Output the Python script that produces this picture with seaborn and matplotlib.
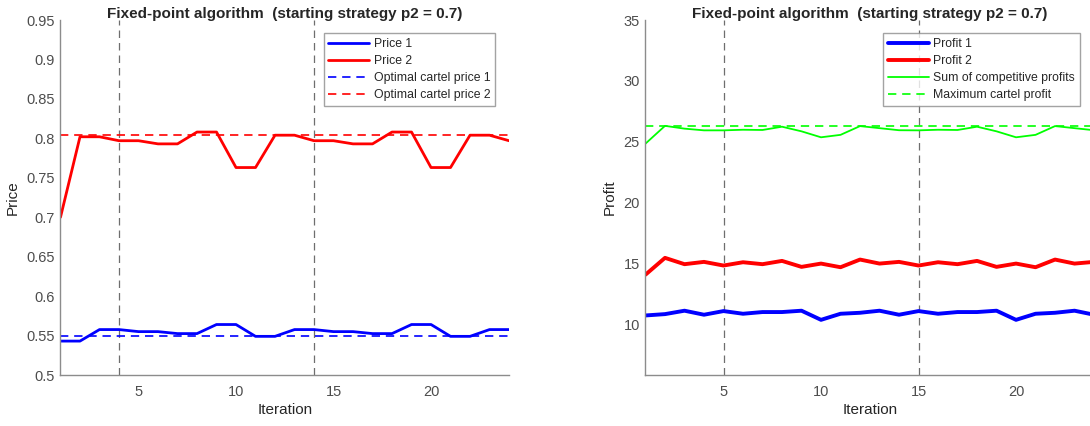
import numpy as np
import pandas as pd
import matplotlib
matplotlib.use("Agg")
import matplotlib.pyplot as plt
import seaborn as sns

# values
iterations = list(range(1, 25))
price1 = [0.543, 0.543, 0.5576, 0.5576, 0.555, 0.555, 0.5525, 0.5525, 0.564, 0.564, 0.549, 0.549,
          0.5576, 0.5576, 0.555, 0.555, 0.5525, 0.5525, 0.564, 0.564, 0.549, 0.549, 0.5576, 0.5576]
price2 = [0.700, 0.802, 0.802, 0.797, 0.797, 0.793, 0.793, 0.808, 0.808, 0.763, 0.763, 0.804,
          0.804, 0.797, 0.797, 0.793, 0.793, 0.808, 0.808, 0.763, 0.763, 0.804, 0.804, 0.797]
cartel_price1 = 0.5495
cartel_price2 = 0.8047

profit1 = [10.74, 10.85, 11.13, 10.80, 11.10, 10.88, 11.02, 11.02, 11.13, 10.38, 10.88, 10.96,
           11.13, 10.80, 11.10, 10.88, 11.02, 11.02, 11.13, 10.38, 10.88, 10.96, 11.13, 10.80]
profit2 = [14.09, 15.47, 14.95, 15.14, 14.84, 15.11, 14.95, 15.22, 14.73, 15.00, 14.70, 15.33,
           15.00, 15.14, 14.84, 15.11, 14.95, 15.22, 14.73, 15.00, 14.70, 15.33, 15.00, 15.14]
profit_sum = [24.85, 26.31, 26.08, 25.94, 25.94, 25.99, 25.97, 26.24, 25.86, 25.37, 25.57, 26.29,
              26.12, 25.95, 25.94, 25.99, 25.97, 26.24, 25.86, 25.37, 25.57, 26.29, 26.12, 25.95]
cartel_profit = 26.3

price_marks = [4, 14]
profit_marks = [5, 15]

title = "Fixed-point algorithm  (starting strategy p2 = 0.7)"

sns.set_style("white")
plt.rcParams["font.family"] = ["Liberation Sans", "DejaVu Sans"]

df = pd.DataFrame({"Iteration": iterations, "p1": price1, "p2": price2,
                   "pi1": profit1, "pi2": profit2, "sum": profit_sum})

fig = plt.figure(figsize=(10.9, 4.26), dpi=100)
ax1 = fig.add_axes([0.0555, 0.1197, 0.4115, 0.8333])
ax2 = fig.add_axes([0.5922, 0.1197, 0.4115, 0.8333])

grey = "#4d4d4d"
mark_col = "#6e6e6e"

# --- left: prices ---
for x in price_marks:
    ax1.axvline(x, color=mark_col, ls=(0, (6, 4)), lw=0.9, zorder=1)
sns.lineplot(data=df, x="Iteration", y="p1", ax=ax1, color="#0000ff", lw=2, label="Price 1")
sns.lineplot(data=df, x="Iteration", y="p2", ax=ax1, color="#ff0000", lw=2, label="Price 2")
ax1.axhline(cartel_price1, color="#0000ff", ls=(0, (5, 3.5)), lw=1.2, label="Optimal cartel price 1")
ax1.axhline(cartel_price2, color="#ff0000", ls=(0, (5, 3.5)), lw=1.2, label="Optimal cartel price 2")
ax1.set_xlim(1, 24)
ax1.set_ylim(0.5, 0.95)
ax1.set_yticks(np.arange(0.5, 0.951, 0.05))
ax1.set_yticklabels(["0.5", "0.55", "0.6", "0.65", "0.7", "0.75", "0.8", "0.85", "0.9", "0.95"])
ax1.set_ylabel("Price", fontsize=11, color="#262626", labelpad=5)

# --- right: profits ---
for x in profit_marks:
    ax2.axvline(x, color=mark_col, ls=(0, (6, 4)), lw=0.9, zorder=1)
sns.lineplot(data=df, x="Iteration", y="pi1", ax=ax2, color="#0000ff", lw=2.8, label="Profit 1")
sns.lineplot(data=df, x="Iteration", y="pi2", ax=ax2, color="#ff0000", lw=2.8, label="Profit 2")
sns.lineplot(data=df, x="Iteration", y="sum", ax=ax2, color="#00ff00", lw=1.3, label="Sum of competitive profits")
ax2.axhline(cartel_profit, color="#00ff00", ls=(0, (5, 3.5)), lw=1.2, label="Maximum cartel profit")
ax2.set_xlim(1, 24)
ax2.set_ylim(5.85, 35)
ax2.set_yticks([10, 15, 20, 25, 30, 35])
ax2.set_ylabel("Profit", fontsize=11, color="#262626", labelpad=5)

for ax in (ax1, ax2):
    ax.set_xticks([5, 10, 15, 20])
    ax.set_xlabel("Iteration", fontsize=11, color="#262626", labelpad=3)
    ax.set_title(title, fontsize=11, fontweight="bold", pad=1.5)
    for s in ("top", "right"):
        ax.spines[s].set_visible(False)
    for s in ("left", "bottom"):
        ax.spines[s].set_color("#8c8c8c")
        ax.spines[s].set_linewidth(1.0)
    ax.tick_params(axis="both", direction="in", length=4, width=0.8, color="#8c8c8c",
                   labelsize=10.5, labelcolor=grey, pad=4)
    ax.tick_params(axis="x", pad=7)
    leg = ax.legend(loc="upper right", bbox_to_anchor=(0.969, 0.963), fontsize=8.8,
                    frameon=True, fancybox=False, handlelength=3.3, handletextpad=0.4,
                    borderpad=0.4, labelspacing=0.42, borderaxespad=0)
    leg.get_frame().set_edgecolor("#8c8c8c")
    leg.get_frame().set_linewidth(1.0)
    for t in leg.get_texts():
        t.set_color("#262626")

fig.savefig("out.png", dpi=100)
